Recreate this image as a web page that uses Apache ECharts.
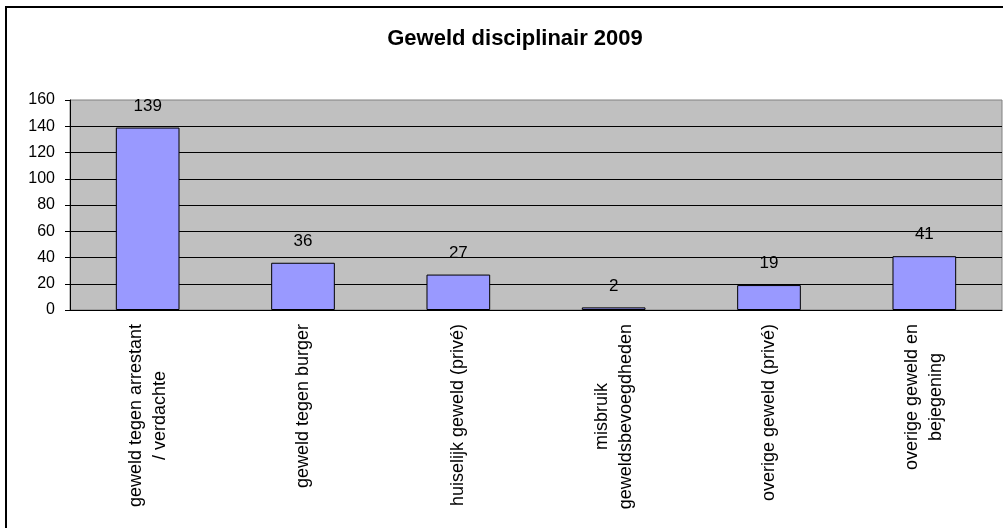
<!DOCTYPE html>
<html>
<head>
<meta charset="utf-8">
<script src="https://cdn.jsdelivr.net/npm/echarts@6/dist/echarts.min.js"></script>
<style>
  html, body { margin: 0; padding: 0; background: #fff; }
  #chart { width: 1003px; height: 528px; }
</style>
</head>
<body>
<div id="chart"></div>
<script>
// categorieën (met regelafbreking zoals in het origineel)
const categories = [
  ['geweld tegen arrestant', '/ verdachte'],
  ['geweld tegen burger'],
  ['huiselijk geweld (privé)'],
  ['misbruik', 'geweldsbevoegdheden'],
  ['overige geweld (privé)'],
  ['overige geweld en', 'bejegening']
]
const values = [139, 36, 27, 2, 19, 41]
const yTicks = [0, 20, 40, 60, 80, 100, 120, 140, 160]

const font = 'Liberation Sans, Arial, sans-serif'
const chart = echarts.init(document.getElementById('chart'))

const options = {
  animation: false,
  textStyle: { fontFamily: font },
  title: {
    text: 'Geweld disciplinair 2009',
    left: 510,
    top: 23,
    textAlign: 'center',
    textStyle: { fontFamily: font, fontSize: 22, fontWeight: 'bold', color: '#000' }
  },
  graphic: [
    {
      type: 'rect',
      silent: true,
      shape: { x: 6, y: 7, width: 1100, height: 600 },
      style: { fill: 'none', stroke: '#000', lineWidth: 2 }
    }
  ],
  grid: {
    left: 70,
    right: 1,
    top: 100,
    bottom: 218,
    show: true,
    backgroundColor: '#c0c0c0',
    borderColor: '#808080',
    borderWidth: 1
  },
  xAxis: {
    type: 'category',
    data: categories.map(c => c.join('\n')),
    axisLine: { lineStyle: { color: '#000', width: 1 } },
    axisTick: { length: 5, lineStyle: { color: '#000' } },
    axisLabel: {
      rotate: 90,
      interval: 0,
      margin: 14,
      formatter: v => v.split('\n').map(s => '{c|' + s + '}').join('\n'),
      rich: {
        c: { align: 'center', fontSize: 18, lineHeight: 24, fontFamily: font, color: '#000' }
      }
    }
  },
  yAxis: {
    type: 'value',
    min: yTicks[0],
    max: yTicks[yTicks.length - 1],
    interval: 20,
    axisLine: { show: true, lineStyle: { color: '#000', width: 1 } },
    axisTick: { show: true, length: 5, lineStyle: { color: '#000' } },
    axisLabel: { margin: 15, fontSize: 16, color: '#000', fontFamily: font },
    splitLine: { showMaxLine: false, lineStyle: { color: '#000', width: 1 } }
  },
  series: [
    {
      type: 'bar',
      data: values,
      barWidth: '41%',
      itemStyle: { color: '#9999ff', borderColor: '#000', borderWidth: 1 },
      label: {
        show: true,
        position: 'top',
        distance: 13,
        fontSize: 17,
        color: '#000',
        fontFamily: font
      }
    }
  ]
}
chart.setOption(options)
</script>
</body>
</html>
